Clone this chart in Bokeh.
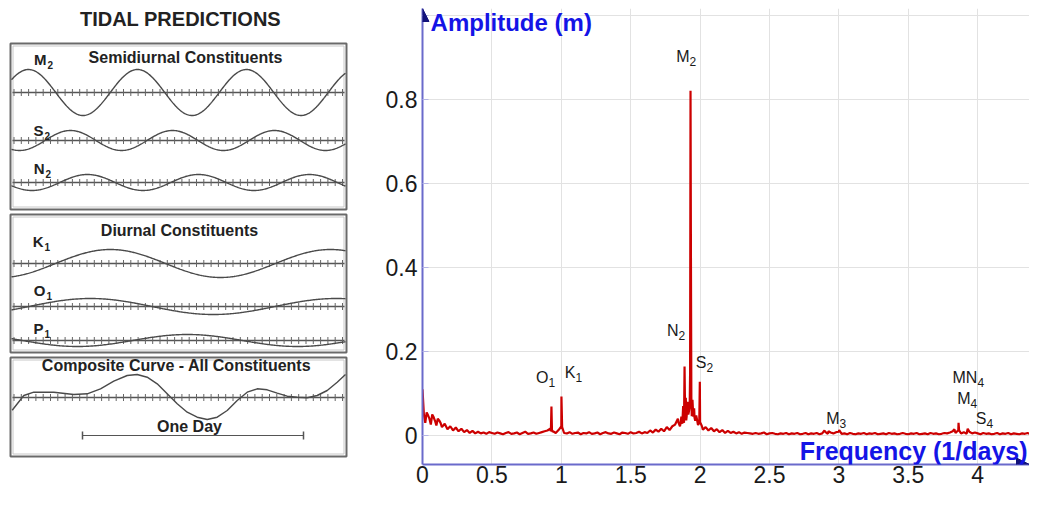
import numpy as np
from bokeh.plotting import figure
from bokeh.layouts import row
from bokeh.models import Range1d, FixedTicker, Arrow, NormalHead, Label
from bokeh.core.properties import value
from bokeh.embed import file_html
from bokeh.resources import INLINE

FONT = value("Liberation Sans")

# ------------------------------------------------------------------
# Spectrum data
# ------------------------------------------------------------------
BASE_STEP = 0.02
base_amp = [
    .110, .030, .048, .026, .044, .024, .036, .020, .028, .015,   # 0.00-0.18
    .022, .012, .019, .010, .016, .008, .013, .006, .011, .005,   # 0.20-0.38
    .009, .005, .007, .004, .008, .006, .004, .007, .005, .003,   # 0.40-0.58
    .006, .008, .004, .005, .007, .003, .006, .009, .004, .005,   # 0.60-0.78
    .007, .004, .006, .008, .010, .012, .016, .010, .006, .013,   # 0.80-0.98
    .016, .006, .005, .008, .004, .006, .007, .003, .006, .005,   # 1.00-1.18
    .008, .004, .005, .007, .003, .006, .008, .005, .004, .007,   # 1.20-1.38
    .005, .003, .007, .006, .004, .008, .005, .006, .009, .005,   # 1.40-1.58
    .008, .006, .012, .007, .014, .009, .016, .010, .020, .013,   # 1.60-1.78
    .022, .026, .040, .030, .052, .036, .058, .046, .042, .034,   # 1.80-1.98
    .030, .014, .020, .012, .018, .010, .015, .008, .013, .006,   # 2.00-2.18
    .011, .006, .009, .005, .008, .004, .007, .006, .005, .004,   # 2.20-2.38
    .006, .004, .005, .007, .003, .005, .006, .004, .003, .005,   # 2.40-2.58
    .004, .006, .003, .005, .004, .006, .003, .004, .006, .003,   # 2.60-2.78
    .005, .004, .006, .003, .005, .009, .004, .007, .005, .008,   # 2.80-2.98
    .009, .004, .005, .003, .006, .004, .003, .005, .004, .006,   # 3.00-3.18
    .003, .005, .004, .006, .003, .004, .005, .003, .006, .004,   # 3.20-3.38
    .005, .003, .004, .006, .004, .003, .005, .004, .006, .003,   # 3.40-3.58
    .004, .005, .003, .006, .004, .005, .003, .004, .006, .005,   # 3.60-3.78
    .007, .010, .006, .011, .005, .008, .004, .009, .005, .007,   # 3.80-3.98
    .005, .003, .006, .004, .005, .003, .004, .006, .003, .005,   # 4.00-4.18
    .004, .006, .003, .005, .004, .003, .005, .004, .006, .003,   # 4.20-4.38
    .004, .005,                                                   # 4.40-4.42
]
base_freq = [round(i * BASE_STEP, 2) for i in range(len(base_amp))]

# spikes and tidal peaks
peak_freq = [0.01, 0.03, 0.05, 0.07, 0.09, 0.11, 0.13,
             0.925, 0.929, 0.933, 0.996, 1.001, 1.006,
             1.845, 1.855, 1.865, 1.872, 1.878, 1.884, 1.888, 1.892, 1.897,
             1.903, 1.909, 1.915, 1.925, 1.928, 1.931, 1.934, 1.937, 1.945,
             1.951, 1.957, 1.965, 1.972, 1.985, 1.994, 1.998, 2.003, 2.013,
             2.896, 2.925, 3.002,
             3.832, 3.858, 3.862, 3.866, 3.928]
peak_amp = [0.05, 0.055, 0.04, 0.05, 0.035, 0.04, 0.03,
            0.010, 0.069, 0.010, 0.020, 0.093, 0.020,
            0.030, 0.022, 0.045, 0.028, 0.070, 0.030, 0.164, 0.050, 0.090,
            0.045, 0.080, 0.050, 0.070, 0.150, 0.821, 0.420, 0.090, 0.085,
            0.045, 0.065, 0.035, 0.048, 0.025, 0.030, 0.128, 0.030, 0.022,
            0.012, 0.010, 0.013,
            0.015, 0.012, 0.030, 0.012, 0.016]

pairs = sorted(zip(base_freq + peak_freq, base_amp + peak_amp))
freq = [f for f, a in pairs]
amp = [a for f, a in pairs]

# peak names, split into letter part and subscript part
peak_names = ["O₁", "K₁", "N₂", "M₂", "S₂", "M₃", "MN₄", "M₄", "S₄"]
peak_main = ["O", "K", "N", "M", "S", "M", "MN", "M", "S"]
peak_sub = ["1", "1", "2", "2", "2", "3", "4", "4", "4"]
# label placement (x = junction between letters and subscript)
name_x = [0.908, 1.102, 1.844, 1.924, 2.046, 3.004, 3.998, 3.948, 4.063]
name_y = [0.138, 0.150, 0.250, 0.902, 0.174, 0.041, 0.138, 0.088, 0.041]

x_ticks = [0, 0.5, 1, 1.5, 2, 2.5, 3, 3.5, 4]
x_tick_labels = ["0", "0.5", "1", "1.5", "2", "2.5", "3", "3.5", "4"]
y_ticks = [0, 0.2, 0.4, 0.6, 0.8, 1.0]
y_tick_labels = ["0", "0.2", "0.4", "0.6", "0.8", ""]

# ------------------------------------------------------------------
# Tidal prediction diagram data (diagram units = pixels of the sketch)
# ------------------------------------------------------------------
const_main = ["M", "S", "N", "K", "O", "P"]
const_sub = ["2", "2", "2", "1", "1", "1"]
const_amp = [23, 10, 8, 14, 8, 6]
const_period = [109, 102, 111, 220, 246, 220]
const_peak = [28, 70, 87, 110, 90, 187]

composite_t = [11.7, 23.3, 33.3, 53.3, 73.3, 86.7, 100, 113.3, 126.7, 136.7,
               146.7, 156.7, 166.7, 176.7, 186.7, 196.7, 206.7, 216.7, 226.7,
               236.7, 246.7, 256.7, 266.7, 276.7, 286.7, 296.7, 306.7, 316.7,
               326.7, 336.7, 345]
composite_h = [-12.7, 2, 5.3, 5.3, 3, 3.7, 8.7, 16.3, 22, 23,
               20.3, 13.7, 3.7, -6.3, -14.7, -19.7, -22, -19.7, -13,
               -3, 5.3, 8.7, 7.7, 4.3, 1.3, 0.3, -0.3, 2,
               7, 15.3, 23]

section_titles = ["Semidiurnal Constituents", "Diurnal Constituents",
                  "Composite Curve - All Constituents"]

# ---------------- layout (positions) for the diagram ----------------
box_top = [43, 214, 357]
box_bot = [209, 352, 456]
box_l, box_r = 10, 346
const_base = [92, 140, 182, 263, 306, 340]
const_label_y = [59, 130, 168, 241, 290, 328]
const_sub_x = [46, 43, 44, 43, 45, 43]
composite_base = 397
section_x = [185, 179, 176]
section_y = [57, 230, 365]

# the row aligns this frame with the spectrum frame (8 px top, 28 px bottom)
L = figure(width=360, height=492, x_range=Range1d(0, 360), y_range=Range1d(464, 8),
           output_backend="svg", toolbar_location=None,
           x_axis_type=None, y_axis_type=None, min_border=0,
           min_border_top=8, min_border_bottom=28)
L.outline_line_color = None

L.text(x=[180], y=[18], text=["TIDAL PREDICTIONS"], text_align="center",
       text_baseline="middle", text_font=FONT, text_font_style="bold",
       text_font_size="20px", text_color="#222222")

L.quad(left=[box_l] * 3, right=[box_r] * 3, top=box_top, bottom=box_bot,
       fill_color=None, line_color="#6a6a6a", line_width=2)
L.quad(left=[box_l + 2.5] * 3, right=[box_r - 2.5] * 3,
       top=[t + 2.5 for t in box_top], bottom=[b - 2.5 for b in box_bot],
       fill_color=None, line_color="#c8c8c8", line_width=1)

L.text(x=section_x, y=section_y, text=section_titles, text_align="center",
       text_baseline="middle", text_font=FONT, text_font_style="bold",
       text_font_size="16px", text_color="#222222")

# baselines with tick marks
all_bases = const_base + [composite_base]
tick_x = np.arange(13.5, 345, 7.3)
for b in all_bases:
    L.line([box_l + 2, box_r - 2], [b, b], line_color="#555555", line_width=1.5)
    L.segment(x0=tick_x, y0=[b - 3.5] * len(tick_x), x1=tick_x, y1=[b + 3.5] * len(tick_x),
              line_color="#666666", line_width=1)

xs = np.linspace(box_l + 1, box_r - 1, 400)
for A, P, x0, b in zip(const_amp, const_period, const_peak, const_base):
    ys = b - A * np.cos(2 * np.pi * (xs - x0) / P)
    L.line(xs, ys, line_color="#4a4a4a", line_width=1.4)

L.text(x=const_sub_x, y=const_label_y, text=const_main, text_align="right",
       text_baseline="middle", text_font=FONT, text_font_style="bold",
       text_font_size="15px", text_color="#222222")
L.text(x=const_sub_x, y=const_label_y, text=const_sub, text_align="left",
       text_baseline="middle", x_offset=1, y_offset=5, text_font=FONT,
       text_font_style="bold", text_font_size="10px", text_color="#222222")

L.line(composite_t, [composite_base - h for h in composite_h],
       line_color="#4a4a4a", line_width=1.4)

# one-day span
L.segment(x0=[82], y0=[435], x1=[303], y1=[435], line_color="#555555", line_width=1)
L.segment(x0=[82, 303], y0=[431, 431], x1=[82, 303], y1=[439, 439],
          line_color="#555555", line_width=1.5)
L.text(x=[189], y=[426], text=["One Day"], text_align="center", text_baseline="middle",
       text_font=FONT, text_font_style="bold", text_font_size="16px",
       text_color="#222222")

# ------------------------------------------------------------------
# Spectrum figure
# ------------------------------------------------------------------
Y0 = -29 / 420
Y1 = 427 / 420
X1 = 607 / 138.8
p = figure(width=669, height=492, x_range=Range1d(0, X1), y_range=Range1d(Y0, Y1),
           output_backend="svg", toolbar_location=None,
           min_border_left=62, min_border_right=0, min_border_top=8, min_border_bottom=28)
p.outline_line_color = None

p.xaxis.ticker = FixedTicker(ticks=x_ticks)
p.yaxis.ticker = FixedTicker(ticks=y_ticks)
p.xaxis.major_label_overrides = dict(zip(x_ticks, x_tick_labels))
p.yaxis.major_label_overrides = dict(zip(y_ticks, y_tick_labels))
for ax in (p.xaxis, p.yaxis):
    ax.axis_line_color = "#6a6acb"
    ax.axis_line_width = 2
    ax.minor_tick_line_color = None
    ax.major_tick_out = 0
    ax.major_label_text_font = "Liberation Sans"
    ax.major_label_text_font_size = "23px"
    ax.major_label_text_color = "#1a1a1a"
p.xaxis.major_tick_line_color = None
p.xaxis.major_label_standoff = 1
p.yaxis.major_tick_in = 6
p.yaxis.major_tick_line_color = "#b4b4e4"
p.yaxis.major_label_standoff = 5

p.xgrid.grid_line_color = "#e2e2e2"
p.ygrid.grid_line_color = "#e2e2e2"
p.grid.grid_line_width = 1

p.line(freq, amp, line_color="#cc0000", line_width=2.2)

p.text(x=name_x, y=name_y, text=peak_main, text_align="right", text_baseline="middle",
       text_font=FONT, text_font_size="16px", text_color="#1a1a1a")
p.text(x=name_x, y=name_y, text=peak_sub, text_align="left", text_baseline="middle",
       x_offset=0, y_offset=5, text_font=FONT, text_font_size="12px",
       text_color="#1a1a1a")

head_color = "#12127a"
p.add_layout(Arrow(end=NormalHead(size=13, fill_color=head_color, line_color=head_color),
                   x_start=0, y_start=Y1 - 0.03, x_end=0, y_end=Y1, line_color=None))
p.add_layout(Arrow(end=NormalHead(size=13, fill_color=head_color, line_color=head_color),
                   x_start=X1 - 0.1, y_start=Y0, x_end=X1, y_end=Y0, line_color=None))

p.add_layout(Label(x=0.058, y=0.983, text="Amplitude (m)", text_align="left",
                   text_baseline="middle", text_font="Liberation Sans",
                   text_font_style="bold", text_font_size="24px", text_color="#1414e6"))
p.add_layout(Label(x=4.359, y=-0.036, text="Frequency (1/days)", text_align="right",
                   text_baseline="middle", text_font="Liberation Sans",
                   text_font_style="bold", text_font_size="25px", text_color="#1414e6"))

layout = row(L, p)
open("out.html", "w").write(file_html(layout, INLINE))
